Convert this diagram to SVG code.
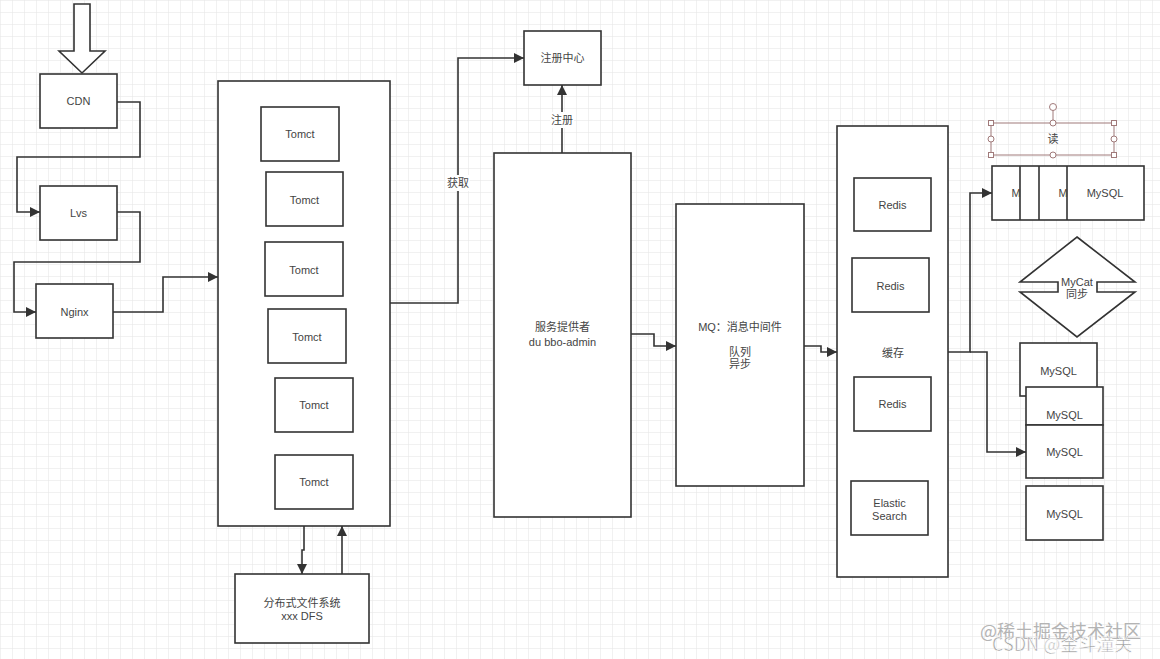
<svg xmlns="http://www.w3.org/2000/svg" width="1160" height="659" viewBox="0 0 1160 659">
<defs>
<pattern id="grid" width="12" height="12" patternUnits="userSpaceOnUse">
<path d="M12 0H0V12" fill="none" stroke="#e3e3e3" stroke-width="1"/>
</pattern>
<marker id="arr" viewBox="0 0 10 10" refX="10" refY="5" markerWidth="12" markerHeight="10" markerUnits="userSpaceOnUse" orient="auto">
<path d="M0 0L10 5L0 10z" fill="#333"/>
</marker>
<style>
.b{fill:#fff;stroke:#333;stroke-width:1.6}
.c{fill:none;stroke:#333;stroke-width:1.6}
.t{font-family:"Liberation Sans","Noto Sans CJK SC",sans-serif;font-size:11px;fill:#444;text-anchor:middle;dominant-baseline:central}
.s{fill:none;stroke:#a07a7a;stroke-width:1}
.h{fill:#fff;stroke:#a07a7a;stroke-width:1}
.w{font-family:"Noto Sans CJK SC",sans-serif;font-size:18px;text-anchor:start}
</style>
</defs>
<rect width="1160" height="659" fill="#fff"/>
<rect width="1160" height="659" fill="url(#grid)"/>

<g id="connectors">
<path class="c" d="M117 102H140V157H17V212H40" marker-end="url(#arr)"/>
<path class="c" d="M117 212H140V262H14V312H36" marker-end="url(#arr)"/>
<path class="c" d="M113 312H163V277H218" marker-end="url(#arr)"/>
<path class="c" d="M390 303H458V58H524" marker-end="url(#arr)"/>
<path class="c" d="M562 153V85" marker-end="url(#arr)"/>
<path class="c" d="M631 334H654V346H676" marker-end="url(#arr)"/>
<path class="c" d="M804 346H821V352H837" marker-end="url(#arr)"/>
<path class="c" d="M948 352H970V193H992" marker-end="url(#arr)"/>
<path class="c" d="M970 352H987V452H1026" marker-end="url(#arr)"/>
<path class="c" d="M304 526V550H302V574" marker-end="url(#arr)"/>
<path class="c" d="M342 574V526" marker-end="url(#arr)"/>
<rect x="446" y="175" width="24" height="16" fill="#fff"/>
<text class="t" x="458" y="183">获取</text>
<rect x="550" y="112" width="24" height="16" fill="#fff"/>
<text class="t" x="562" y="120">注册</text>
</g>

<g id="entry">
<path class="b" d="M74 4H90V51H105L82 73L59 51H74Z"/>
</g>
<g id="cdn"><rect class="b" x="40" y="74" width="77" height="54"/><text class="t" x="78.5" y="101">CDN</text></g>
<g id="lvs"><rect class="b" x="40" y="186" width="77" height="54"/><text class="t" x="78.5" y="213">Lvs</text></g>
<g id="nginx"><rect class="b" x="36" y="284" width="77" height="54"/><text class="t" x="74.5" y="312">Nginx</text></g>

<g id="tomcat-cluster">
<rect class="b" x="218" y="81" width="172" height="445"/>
<g id="tomcat1"><rect class="b" x="261" y="107" width="78" height="54"/><text class="t" x="300" y="134">Tomct</text></g>
<g id="tomcat2"><rect class="b" x="266" y="172" width="77" height="54"/><text class="t" x="304.5" y="200">Tomct</text></g>
<g id="tomcat3"><rect class="b" x="265" y="242" width="78" height="54"/><text class="t" x="304" y="270">Tomct</text></g>
<g id="tomcat4"><rect class="b" x="268" y="309" width="78" height="54"/><text class="t" x="307" y="337">Tomct</text></g>
<g id="tomcat5"><rect class="b" x="275" y="378" width="78" height="54"/><text class="t" x="314" y="405">Tomct</text></g>
<g id="tomcat6"><rect class="b" x="275" y="455" width="78" height="54"/><text class="t" x="314" y="482">Tomct</text></g>
</g>

<g id="dfs"><rect class="b" x="235" y="574" width="134" height="69"/><text class="t" x="302" y="603">分布式文件系统</text><text class="t" x="302" y="616">xxx DFS</text></g>

<g id="registry"><rect class="b" x="524" y="31" width="77" height="54"/><text class="t" x="562.5" y="58">注册中心</text></g>

<g id="provider"><rect class="b" x="494" y="153" width="137" height="364"/><text class="t" x="562.5" y="327">服务提供者</text><text class="t" x="562.5" y="342">du bbo-admin</text></g>

<g id="mq"><rect class="b" x="676" y="204" width="128" height="282"/><text class="t" x="740" y="327">MQ：消息中间件</text><text class="t" x="740" y="352">队列</text><text class="t" x="740" y="364">异步</text></g>

<g id="cache">
<rect class="b" x="837" y="126" width="111" height="451"/>
<text class="t" x="893" y="353">缓存</text>
<g id="redis1"><rect class="b" x="854" y="178" width="77" height="53"/><text class="t" x="892.5" y="205">Redis</text></g>
<g id="redis2"><rect class="b" x="852" y="258" width="77" height="54"/><text class="t" x="890.5" y="286">Redis</text></g>
<g id="redis3"><rect class="b" x="854" y="377" width="77" height="54"/><text class="t" x="892.5" y="404">Redis</text></g>
<g id="es"><rect class="b" x="851" y="481" width="77" height="54"/><text class="t" x="889.5" y="503">Elastic</text><text class="t" x="889.5" y="516">Search</text></g>
</g>

<g id="mysql-row">
<rect class="b" x="992" y="166" width="152" height="54"/>
<path class="c" d="M1020 166V220M1039 166V220M1067 166V220"/>
<text class="t" x="1016" y="193">M</text>
<text class="t" x="1063" y="193">M</text>
<text class="t" x="1105" y="193">MySQL</text>
</g>

<g id="read-label">
<rect class="s" x="991" y="123" width="123" height="32"/>
<path class="s" d="M1053 123V110"/>
<circle class="h" cx="1053" cy="107" r="3.5"/>
<circle class="h" cx="1053" cy="123" r="3"/>
<circle class="h" cx="1053" cy="155" r="3"/>
<circle class="h" cx="991" cy="139" r="3"/>
<circle class="h" cx="1114" cy="139" r="3"/>
<rect class="h" x="988.5" y="120.5" width="5" height="5"/>
<rect class="h" x="1111.5" y="120.5" width="5" height="5"/>
<rect class="h" x="988.5" y="152.5" width="5" height="5"/>
<rect class="h" x="1111.5" y="152.5" width="5" height="5"/>
<text class="t" x="1053" y="139">读</text>
</g>

<g id="mycat">
<path class="b" d="M1077 237L1135 282H1097V292H1135L1077 337L1020 292H1058V282H1020Z"/>
<text class="t" x="1077" y="282">MyCat</text>
<text class="t" x="1077" y="294">同步</text>
</g>

<g id="mysql-a"><rect class="b" x="1020" y="343" width="77" height="53"/><text class="t" x="1058.5" y="371">MySQL</text></g>
<g id="mysql-b"><rect class="b" x="1026" y="387" width="77" height="38"/><text class="t" x="1064.5" y="415">MySQL</text></g>
<g id="mysql-c"><rect class="b" x="1026" y="425" width="77" height="53"/><text class="t" x="1064.5" y="452">MySQL</text></g>
<g id="mysql-d"><rect class="b" x="1026" y="486" width="77" height="54"/><text class="t" x="1064.5" y="514">MySQL</text></g>

<g id="watermark">
<text class="w" x="980" y="638" fill="#b4b4b4">@稀土掘金技术社区</text>
<text class="w" x="992" y="651" fill="#9a9a9a" stroke="#fff" stroke-width="0.6">CSDN @金斗潼关</text>
</g>
</svg>
